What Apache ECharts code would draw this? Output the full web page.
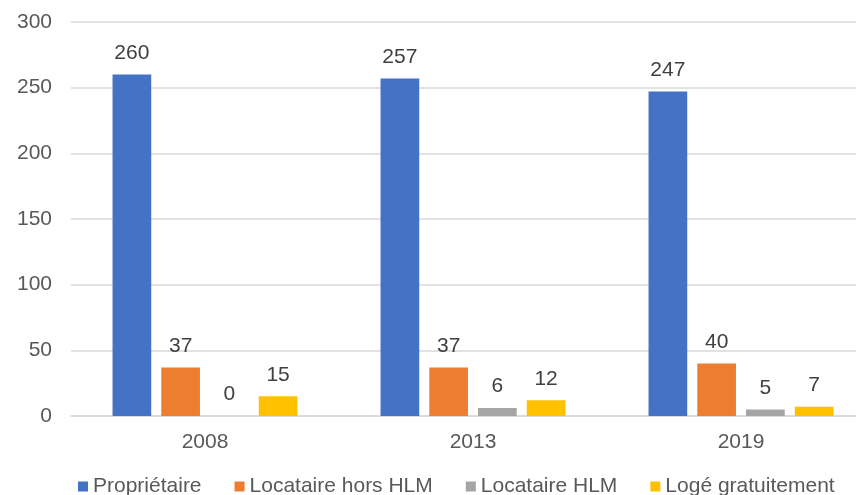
<!DOCTYPE html>
<html lang="fr">
<head>
<meta charset="UTF-8">
<title>Statut d'occupation</title>
<script src="https://cdn.jsdelivr.net/npm/echarts@6/dist/echarts.min.js"></script>
<style>
  html, body { margin: 0; padding: 0; background: #fff; }
  #chart { width: 856px; height: 495px; }
</style>
</head>
<body>
<div id="chart"></div>
<script>
// données
var years = ['2008', '2013', '2019'];
var proprietaire = [260, 257, 247];
var locataireHorsHlm = [37, 37, 40];
var locataireHlm = [0, 6, 5];
var logeGratuit = [15, 12, 7];
var yTicks = [0, 50, 100, 150, 200, 250, 300];

var font = 'Liberation Sans, Arial, sans-serif';

function barSerie(name, data, color) {
    return {
        name: name,
        type: 'bar',
        data: data,
        barGap: '26%',
        barCategoryGap: '31%',
        itemStyle: { color: color },
        label: {
            show: true,
            position: 'top',
            distance: 11,
            color: '#404040',
            fontSize: 21,
            fontFamily: font
        }
    };
}

var myChart = echarts.init(document.getElementById('chart'));
myChart.setOption({
    animation: false,
    // la zone du graphique dépasse un peu à droite de l'image
    grid: { left: 71, width: 804, top: 22, bottom: 79, outerBoundsMode: 'none' },
    legend: {
        top: 471,
        left: 73,
        icon: 'rect',
        itemWidth: 10,
        itemHeight: 10,
        itemGap: 33,
        textStyle: { color: '#595959', fontSize: 21, fontFamily: font }
    },
    xAxis: {
        type: 'category',
        data: years,
        axisTick: { show: false },
        axisLine: { lineStyle: { color: '#d9d9d9', width: 1.5 } },
        axisLabel: { color: '#595959', fontSize: 21, fontFamily: font, margin: 16 }
    },
    yAxis: {
        type: 'value',
        min: yTicks[0],
        max: yTicks[yTicks.length - 1],
        interval: 50,
        axisLine: { show: false },
        axisTick: { show: false },
        splitLine: { lineStyle: { color: '#d9d9d9', width: 1.5 } },
        axisLabel: { color: '#595959', fontSize: 21, fontFamily: font, margin: 19 }
    },
    series: [
        barSerie('Propriétaire', proprietaire, '#4472C4'),
        barSerie('Locataire hors HLM', locataireHorsHlm, '#ED7D31'),
        barSerie('Locataire HLM', locataireHlm, '#A5A5A5'),
        barSerie('Logé gratuitement', logeGratuit, '#FFC000')
    ]
});
</script>
</body>
</html>
